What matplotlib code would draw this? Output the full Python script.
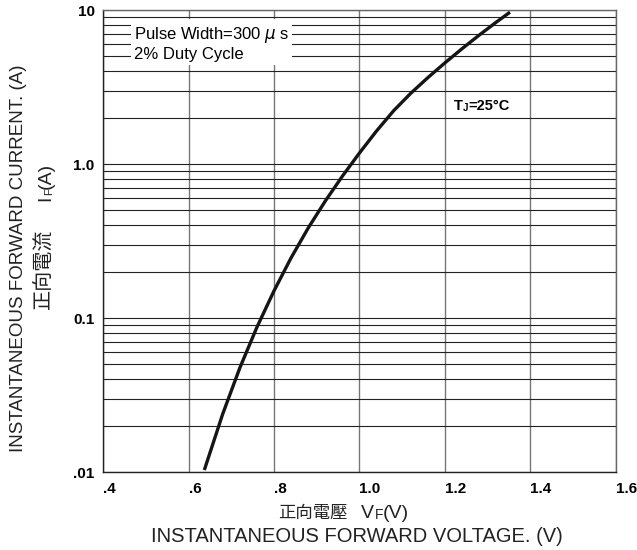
import matplotlib
matplotlib.use("Agg")
import matplotlib.pyplot as plt
from matplotlib.ticker import FixedLocator, LogLocator, NullFormatter

# Forward voltage (V) vs instantaneous forward current (A)
vf = [0.637, 0.68, 0.72, 0.76, 0.80, 0.84, 0.88, 0.92, 0.96, 1.00,
      1.04, 1.08, 1.12, 1.16, 1.20, 1.24, 1.28, 1.32, 1.352]
i_f = [0.0103, 0.0238, 0.0474, 0.0871, 0.150, 0.246, 0.384, 0.575, 0.834, 1.18,
       1.64, 2.22, 2.88, 3.64, 4.54, 5.61, 6.87, 8.34, 9.68]

x_ticks = [0.4, 0.6, 0.8, 1.0, 1.2, 1.4, 1.6]
x_labels = [".4", ".6", ".8", "1.0", "1.2", "1.4", "1.6"]
y_ticks = [0.01, 0.1, 1.0, 10.0]
y_labels = [".01", "0.1", "1.0", "10"]

LATIN = "Liberation Sans"
CJK = ["Noto Sans CJK TC", "DejaVu Sans"]

plt.rcParams["font.family"] = LATIN

W, H = 637, 550
fig = plt.figure(figsize=(W / 100, H / 100), dpi=100)
ax = fig.add_axes([103 / W, 1 - 472 / H, 513 / W, 462 / H])

ax.set_yscale("log")
ax.set_xlim(0.4, 1.6)
ax.set_ylim(0.01, 10)

# grid: gray verticals, dark horizontals (major + minor)
ax.xaxis.set_major_locator(FixedLocator(x_ticks))
ax.yaxis.set_major_locator(FixedLocator(y_ticks))
ax.yaxis.set_minor_locator(LogLocator(base=10, subs=range(2, 10)))
ax.yaxis.set_minor_formatter(NullFormatter())
ax.grid(True, axis="x", which="major", color="#777777", lw=1.0)
ax.grid(True, axis="y", which="both", color="#222222", lw=0.8)
ax.set_axisbelow(True)

ax.set_xticklabels(x_labels)
ax.set_yticklabels(y_labels)
ax.tick_params(which="both", length=0, labelsize=11)
ax.tick_params(axis="x", pad=7)
ax.tick_params(axis="y", pad=6)
for lab in ax.get_xticklabels() + ax.get_yticklabels():
    lab.set_fontweight("bold")
for lab in ax.get_xticklabels():
    lab.set_horizontalalignment("left")

for side in ["left", "bottom"]:
    ax.spines[side].set_color("#222222")
for side in ["top", "right"]:
    ax.spines[side].set_color("#666666")
for sp in ax.spines.values():
    sp.set_linewidth(1.0)

ax.plot(vf, i_f, color="#151515", lw=2.4, solid_capstyle="butt",
        solid_joinstyle="round", zorder=3)

# test conditions box
ax.text(0.06, 0.967, "Pulse Width=300 $\\mu$ s\n2% Duty Cycle", transform=ax.transAxes,
        fontsize=12, va="top", ha="left", linespacing=1.15,
        bbox=dict(facecolor="white", edgecolor="none", pad=2), zorder=4)

# T_J = 25 C
t = ax.text(0.684, 0.792, "T", transform=ax.transAxes,
            fontsize=10.5, fontweight="bold", va="center", ha="left")
j = ax.annotate("J", xy=(1, 0), xycoords=t, fontsize=7,
                fontweight="bold", va="bottom", ha="left")
ax.annotate("=25°C", xy=(1, 0), xycoords=(j, t), fontsize=10.5,
            fontweight="bold", va="bottom", ha="left")

# x axis labels
xc = fig.text(278 / W, 1 - 513 / H, "正向電壓", family=CJK, fontsize=12.5,
              va="center", ha="left", color="#222222")
xv = ax.annotate("V", xy=(1, 0), xycoords=xc, xytext=(10, 0), textcoords="offset points",
                 fontsize=14, va="bottom", ha="left", color="#222222",
                 annotation_clip=False)
xf = ax.annotate("F", xy=(1, 0), xycoords=xv, fontsize=10, color="#222222",
                 va="bottom", ha="left", annotation_clip=False)
ax.annotate("(V)", xy=(1, 0), xycoords=(xf, xv), fontsize=14, color="#222222",
            va="bottom", ha="left", annotation_clip=False)
fig.text(357 / W, 1 - 537 / H, "INSTANTANEOUS FORWARD VOLTAGE. (V)",
         fontsize=14.5, va="center", ha="center", color="#222222")

# y axis labels
fig.text(18.5 / W, 1 - 258 / H, "INSTANTANEOUS FORWARD CURRENT. (A)",
         fontsize=13.5, rotation=90, va="center", ha="center", color="#222222")
yc = fig.text(44 / W, 1 - 309 / H, "正向電流", family=CJK, fontsize=14.5,
              rotation=90, va="bottom", ha="center", color="#222222")
yi = ax.annotate("I", xy=(1, 1), xycoords=yc, xytext=(0, 20), textcoords="offset points",
                 fontsize=14, rotation=90, va="bottom", ha="right", color="#222222",
                 annotation_clip=False)
yf = ax.annotate("F", xy=(1, 1), xycoords=yi, fontsize=8, color="#222222",
                 rotation=90, va="bottom", ha="right", annotation_clip=False)
ax.annotate("(A)", xy=(1, 1), xycoords=(yi, yf), fontsize=14, color="#222222",
            rotation=90, va="bottom", ha="right", annotation_clip=False)

fig.savefig("out.png", dpi=100)
